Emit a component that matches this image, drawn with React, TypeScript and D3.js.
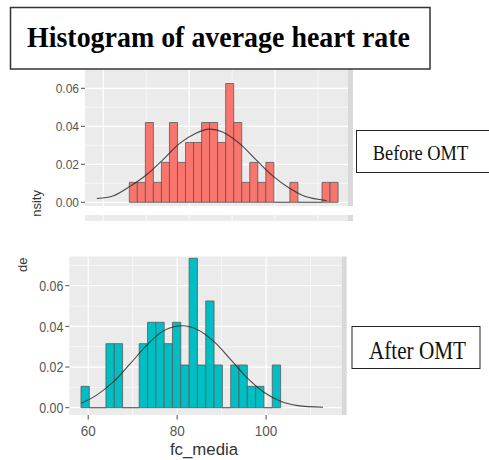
import React, { useEffect, useRef } from "react";
import * as d3 from "d3";

// histogram densities (one value per bin, bin width ~1.87 bpm)
const beforeDensity = [
  0.0105, 0.0105, 0.042, 0.0105, 0.021, 0.042, 0.021, 0.0315, 0.0315, 0.042,
  0.042, 0.0315, 0.0625, 0.042, 0.0105, 0.021, 0.0105, 0.021, 0, 0, 0.0105, 0,
  0, 0, 0.0105, 0.0105,
];
const afterDensity = [
  0.0105, 0, 0, 0.0315, 0.0315, 0, 0, 0.0315, 0.042, 0.042, 0.0315, 0.042,
  0.021, 0.0735, 0.021, 0.0525, 0.021, 0, 0.021, 0.021, 0.0105, 0.0105, 0,
  0.021,
];
const binWidth = 1.87;
const beforeStart = 66.07;
const afterStart = 58.38;

// normal curve overlay
const beforeCurveX = [58.5, 62.4, 66.3, 70.1, 74.0, 77.8, 81.7, 84.7, 87.8, 91.7, 95.5, 99.4, 103.3, 107.1, 112.0];
const beforeCurveY = [0.002, 0.0035, 0.0085, 0.0145, 0.0226, 0.031, 0.0365, 0.0385, 0.037, 0.031, 0.0226, 0.014, 0.0075, 0.003, 0.0009];
const afterCurveX = [58.4, 61.9, 65.7, 69.4, 73.2, 77.0, 81.1, 84.5, 88.3, 92.1, 95.8, 99.6, 103.4, 107.1, 112.8];
const afterCurveY = [0.0022, 0.0062, 0.0128, 0.0215, 0.0308, 0.0379, 0.0403, 0.0385, 0.0325, 0.0235, 0.0145, 0.0075, 0.003, 0.001, 0.0002];

const xMajor = [60, 80, 100];
const xMinor = [70, 90, 110];
const yMajor = [0, 0.02, 0.04, 0.06];
const yMinor = [0.01, 0.03, 0.05, 0.07];
const xDomain: [number, number] = [55.75, 117.0];

const App: React.FC = () => {
  const svgRef = useRef(null);

  useEffect(() => {
    const svg = d3.select(svgRef.current);
    svg.selectAll("*").remove();
    const defs = svg.append("defs");

    const drawPanel = (o: any) => {
      const x = d3.scaleLinear().domain(xDomain).range([o.left, o.right]);
      const y = d3.scaleLinear().domain([0, 0.06]).range([o.y0, o.y06]);
      defs
        .append("clipPath")
        .attr("id", o.id)
        .append("rect")
        .attr("x", o.left)
        .attr("y", o.top)
        .attr("width", o.right - o.left)
        .attr("height", o.bottom - o.top);

      const g = svg.append("g");
      g.append("rect")
        .attr("x", o.left)
        .attr("y", o.top)
        .attr("width", o.right - o.left)
        .attr("height", o.bottom - o.top)
        .attr("fill", "#EBEBEB");
      g.append("rect")
        .attr("x", o.right)
        .attr("y", o.top)
        .attr("width", 5)
        .attr("height", o.bottom - o.top)
        .attr("fill", "#D9D9D9");

      const inner = g.append("g").attr("clip-path", `url(#${o.id})`);
      inner
        .selectAll("line.hmin")
        .data(yMinor)
        .enter()
        .append("line")
        .attr("x1", o.left)
        .attr("x2", o.right)
        .attr("y1", (d) => y(d))
        .attr("y2", (d) => y(d))
        .attr("stroke", "#fff")
        .attr("stroke-width", 0.6);
      inner
        .selectAll("line.vmin")
        .data(xMinor)
        .enter()
        .append("line")
        .attr("y1", o.top)
        .attr("y2", o.bottom)
        .attr("x1", (d) => x(d))
        .attr("x2", (d) => x(d))
        .attr("stroke", "#fff")
        .attr("stroke-width", 0.6);
      inner
        .selectAll("line.hmaj")
        .data(yMajor)
        .enter()
        .append("line")
        .attr("x1", o.left)
        .attr("x2", o.right)
        .attr("y1", (d) => y(d))
        .attr("y2", (d) => y(d))
        .attr("stroke", "#fff")
        .attr("stroke-width", 1.2);
      inner
        .selectAll("line.vmaj")
        .data(xMajor)
        .enter()
        .append("line")
        .attr("y1", o.top)
        .attr("y2", o.bottom)
        .attr("x1", (d) => x(d))
        .attr("x2", (d) => x(d))
        .attr("stroke", "#fff")
        .attr("stroke-width", 1.2);

      inner
        .selectAll("path.bar")
        .data(o.values)
        .enter()
        .append("path")
        .attr("d", (d: any, i: number) => {
          const x0 = x(o.start + i * binWidth);
          const x1 = x(o.start + (i + 1) * binWidth);
          return `M${x0},${y(0)}V${y(d)}H${x1}V${y(0)}Z`;
        })
        .attr("fill", o.fill)
        .attr("stroke", "#5a5a5a")
        .attr("stroke-width", 0.8);

      const line = d3
        .line<number>()
        .x((d) => x(d))
        .y((_, i) => y(o.cy[i]))
        .curve(d3.curveCatmullRom);
      inner
        .append("path")
        .attr("d", line(o.cx))
        .attr("fill", "none")
        .attr("stroke", "#2b2b2b")
        .attr("stroke-opacity", 0.85)
        .attr("stroke-width", 1.1);

      // y axis
      g.selectAll("line.yt")
        .data(yMajor)
        .enter()
        .append("line")
        .attr("x1", o.left - 4)
        .attr("x2", o.left)
        .attr("y1", (d) => y(d))
        .attr("y2", (d) => y(d))
        .attr("stroke", "#4d4d4d")
        .attr("stroke-width", 1);
      g.selectAll("g.yl")
        .data(yMajor)
        .enter()
        .append("g")
        .attr("transform", (d) => `translate(${o.left - 6},${y(d)}) scale(1,${o.stretch})`)
        .append("text")
        .attr("text-anchor", "end")
        .attr("dy", "0.36em")
        .attr("font-family", "Liberation Sans, Arial, sans-serif")
        .attr("font-size", o.tickSize)
        .attr("fill", "#555")
        .text((d) => d3.format(".2f")(d));

      return { x, y, g };
    };

    // top panel (before), partly hidden by the title box
    const top = drawPanel({
      id: "clipTop",
      left: 85,
      right: 348,
      top: 57,
      bottom: 206,
      y0: 202.3,
      y06: 88.3,
      values: beforeDensity,
      start: beforeStart,
      fill: "#F8766D",
      cx: beforeCurveX,
      cy: beforeCurveY,
      stretch: 1,
      tickSize: 12,
    });

    // edge of the next facet panel, cut off in the source image
    svg
      .append("rect")
      .attr("x", 85)
      .attr("y", 215)
      .attr("width", 263)
      .attr("height", 6)
      .attr("fill", "#EBEBEB");
    svg
      .append("rect")
      .attr("x", 348)
      .attr("y", 215)
      .attr("width", 5)
      .attr("height", 6)
      .attr("fill", "#D9D9D9");
    svg
      .selectAll("line.cut")
      .data(xMajor.concat(xMinor))
      .enter()
      .append("line")
      .attr("x1", (d) => top.x(d))
      .attr("x2", (d) => top.x(d))
      .attr("y1", 215)
      .attr("y2", 221)
      .attr("stroke", "#fff")
      .attr("stroke-width", 0.8);

    // cut y-axis titles
    defs
      .append("clipPath")
      .attr("id", "clipLabTop")
      .append("rect")
      .attr("x", 0)
      .attr("y", 150)
      .attr("width", 80)
      .attr("height", 67);
    svg
      .append("g")
      .attr("clip-path", "url(#clipLabTop)")
      .append("text")
      .attr("transform", "translate(41,190) rotate(-90)")
      .attr("text-anchor", "end")
      .attr("font-family", "Liberation Sans, Arial, sans-serif")
      .attr("font-size", 13)
      .attr("fill", "#333")
      .text("density");

    // bottom panel (after)
    const bot = drawPanel({
      id: "clipBot",
      left: 69.3,
      right: 341.7,
      top: 256.5,
      bottom: 415,
      y0: 407.7,
      y06: 285.7,
      values: afterDensity,
      start: afterStart,
      fill: "#00BFC4",
      cx: afterCurveX,
      cy: afterCurveY,
      stretch: 1.2,
      tickSize: 12.4,
    });

    bot.g
      .selectAll("line.xt")
      .data(xMajor)
      .enter()
      .append("line")
      .attr("x1", (d) => bot.x(d))
      .attr("x2", (d) => bot.x(d))
      .attr("y1", 415)
      .attr("y2", 419.5)
      .attr("stroke", "#4d4d4d");
    bot.g
      .selectAll("g.xl")
      .data(xMajor)
      .enter()
      .append("g")
      .attr("transform", (d) => `translate(${bot.x(d)},436.2) scale(1,1.15)`)
      .append("text")
      .attr("text-anchor", "middle")
      .attr("font-family", "Liberation Sans, Arial, sans-serif")
      .attr("font-size", 13.5)
      .attr("fill", "#555")
      .text((d) => String(d));
    bot.g
      .append("text")
      .attr("x", 204)
      .attr("y", 454.5)
      .attr("text-anchor", "middle")
      .attr("font-family", "Liberation Sans, Arial, sans-serif")
      .attr("font-size", 16.8)
      .attr("fill", "#333")
      .text("fc_media");

    defs
      .append("clipPath")
      .attr("id", "clipLabBot")
      .append("rect")
      .attr("x", 0)
      .attr("y", 257.2)
      .attr("width", 60)
      .attr("height", 40);
    svg
      .append("g")
      .attr("clip-path", "url(#clipLabBot)")
      .append("text")
      .attr("transform", "translate(26.5,272) rotate(-90)")
      .attr("text-anchor", "start")
      .attr("font-family", "Liberation Sans, Arial, sans-serif")
      .attr("font-size", 13)
      .attr("fill", "#333")
      .text("density");

    // title box
    svg
      .append("rect")
      .attr("x", 10.5)
      .attr("y", 7.5)
      .attr("width", 419.5)
      .attr("height", 61.5)
      .attr("fill", "#fff")
      .attr("stroke", "#333")
      .attr("stroke-width", 1.5);
    svg
      .append("g")
      .attr("transform", "translate(27,46.7) scale(1,1.07)")
      .append("text")
      .attr("font-family", "Liberation Serif, Times New Roman, serif")
      .attr("font-weight", "bold")
      .attr("font-size", 28)
      .attr("textLength", 383)
      .attr("lengthAdjust", "spacingAndGlyphs")
      .attr("fill", "#000")
      .text("Histogram of average heart rate");

    // annotation boxes
    const note = (bx: number, by: number, bw: number, bh: number, tx: number, ty: number, size: number, len: number, label: string) => {
      svg
        .append("rect")
        .attr("x", bx)
        .attr("y", by)
        .attr("width", bw)
        .attr("height", bh)
        .attr("fill", "#fff")
        .attr("stroke", "#222")
        .attr("stroke-width", 1);
      svg
        .append("g")
        .attr("transform", `translate(${tx},${ty}) scale(1,1.15)`)
        .append("text")
        .attr("font-family", "Liberation Serif, Times New Roman, serif")
        .attr("font-size", size)
        .attr("textLength", len)
        .attr("lengthAdjust", "spacingAndGlyphs")
        .attr("fill", "#111")
        .text(label);
    };
    note(356.5, 130.5, 140, 42, 372.7, 160, 18.4, 95.5, "Before OMT");
    note(352, 326.5, 128, 42, 369, 359.3, 21, 97, "After OMT");

    return () => {
      svg.selectAll("*").remove();
    };
  }, []);

  return (
    <svg
      ref={svgRef}
      width={489}
      height={460}
      style={{ position: "absolute", left: 0, top: 0, background: "#fff" }}
    />
  );
};

export default App;
